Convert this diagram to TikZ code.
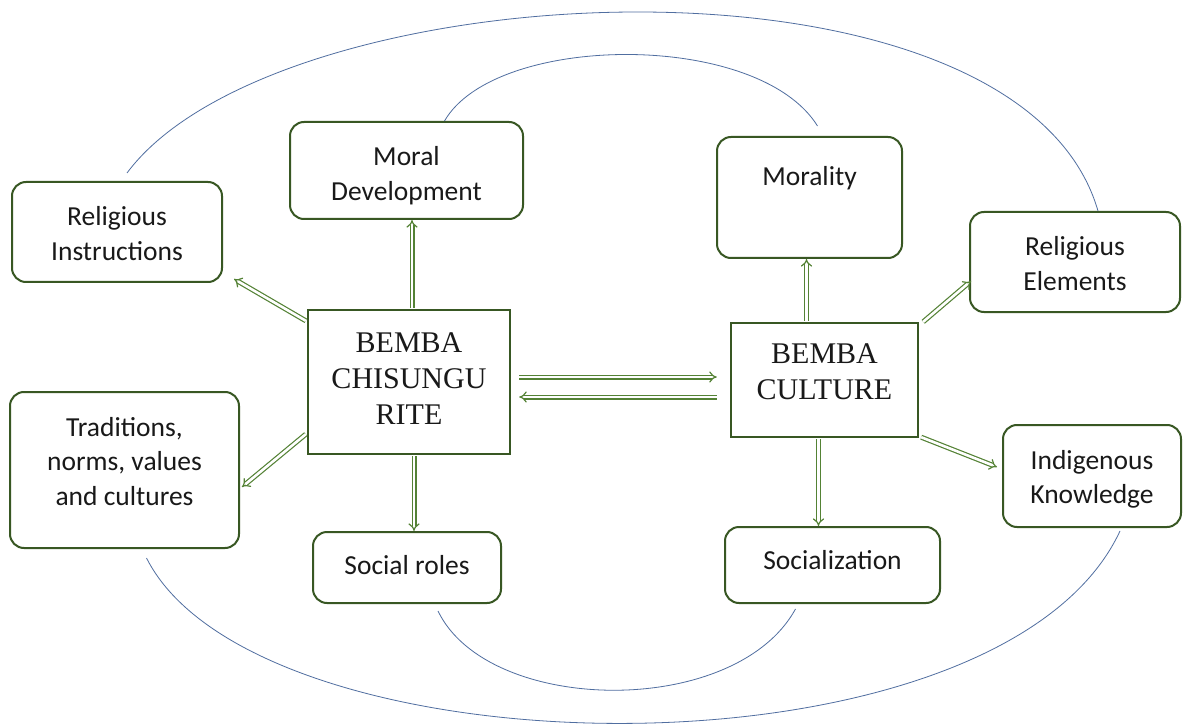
\documentclass[tikz,border=0pt]{standalone}
\usepackage{fontspec}
\setmainfont{Carlito}
\newfontfamily\serifb{Liberation Serif}
\usetikzlibrary{arrows.meta,calc}
\definecolor{boxgreen}{RGB}{56,87,35}
\definecolor{arrgreen}{RGB}{84,130,53}
\definecolor{arcblue}{RGB}{80,110,160}
\definecolor{txt}{RGB}{25,25,25}
\newcommand{\bt}[2]{\raisebox{#1}[0pt][0pt]{\begin{tabular}[t]{@{}c@{}}#2\end{tabular}}}
\tikzset{
  rbox/.style={draw=boxgreen, line width=2pt, rounded corners=14pt, inner sep=0pt, text=txt,
    font=\fontsize{27.5}{34.5}\selectfont},
  sbox/.style={draw=boxgreen, line width=2.4pt, inner sep=0pt, text=txt,
    font=\serifb\fontsize{30}{36}\selectfont},
  arr/.style={draw=arrgreen, line width=1.2pt, double=white, double distance=2.6pt, -{Implies}},
  arcline/.style={draw=arcblue, line width=0.8pt},
}
\begin{document}
\begin{tikzpicture}[x=1pt,y=-1pt]
\path[fill=white] (0,0) rectangle (1183,727);
\useasboundingbox (0,0) rectangle (1183,727);

% boxes
\node[rbox, minimum width=210pt, minimum height=100pt] (relins) at (117,232) {\bt{6pt}{Religious\\Instructions}};
\node[rbox, minimum width=233pt, minimum height=97pt] (md) at (406.5,170.5) {\bt{4.5pt}{Moral\\Development}};
\node[rbox, minimum width=185pt, minimum height=121pt] (mor) at (809.5,197.5) {\bt{11.5pt}{Morality}};
\node[rbox, minimum width=210pt, minimum height=100pt] (relel) at (1075,262) {\bt{6pt}{Religious\\Elements}};
\node[rbox, minimum width=229pt, minimum height=156pt] (trad) at (124.5,470) {\bt{34pt}{Traditions,\\norms, values\\and cultures}};
\node[rbox, minimum width=188pt, minimum height=71pt] (sr) at (407,567.5) {\bt{-6.5pt}{Social roles}};
\node[rbox, minimum width=215pt, minimum height=76pt] (soc) at (832.5,565) {\bt{-4pt}{Socialization}};
\node[rbox, minimum width=178pt, minimum height=102pt] (ik) at (1092,476) {\bt{7pt}{Indigenous\\Knowledge}};
\node[sbox, minimum width=202pt, minimum height=144pt] (chis) at (409,382) {\bt{30pt}{BEMBA\\CHISUNGU\\RITE}};
\node[sbox, minimum width=187pt, minimum height=114pt] (cul) at (824.5,380) {\bt{17pt}{BEMBA\\CULTURE}};

% arrows
\draw[arr] ($(chis.north west)+(-1,12)$) -- ($(relins.south east)+(11,-4)$);
\coordinate (a2s) at ($(chis.north)+(3,-1)$);
\draw[arr] (a2s) -- (a2s |- md.south);
\draw[arr] ($(chis.south west)+(-1,-21)$) -- ($(trad.east)+(2,17)$);
\coordinate (a4s) at ($(chis.south)+(5,1)$);
\draw[arr] (a4s) -- (a4s |- sr.north);
\draw[arr] ($(chis.east)+(8,-5)$) -- ($(cul.west)+(-13,-3)$);
\draw[arr] ($(cul.west)+(-13,17)$) -- ($(chis.east)+(8,15)$);
\coordinate (a7s) at ($(cul.north)+(-18,-1)$);
\draw[arr] (a7s) -- (a7s |- mor.south);
\coordinate (a8s) at ($(cul.south)+(-6,1)$);
\draw[arr] (a8s) -- (a8s |- soc.north);
\draw[arr] ($(cul.north east)+(4,0)$) -- ($(relel.south west)+(2,-32)$);
\draw[arr] ($(cul.south east)+(2,-1)$) -- ($(ik.west)+(-5,-9)$);

% arcs
\draw[arcline] ($(relins.north)+(10,-8)$) .. controls (278,-30) and (1018,-66) .. ($(relel.north)+(23,0)$);
\draw[arcline] ($(md.north)+(38,0)$) .. controls (495,33) and (758,30) .. ($(mor.north)+(8,-10)$);
\draw[arcline] ($(trad.south)+(22,9)$) .. controls (257,777) and (1000,789) .. ($(ik.south)+(28,3)$);
\draw[arcline] ($(sr.south)+(31,7)$) .. controls (488,715) and (735,719) .. ($(soc.south)+(-37,5)$);
\end{tikzpicture}
\end{document}
